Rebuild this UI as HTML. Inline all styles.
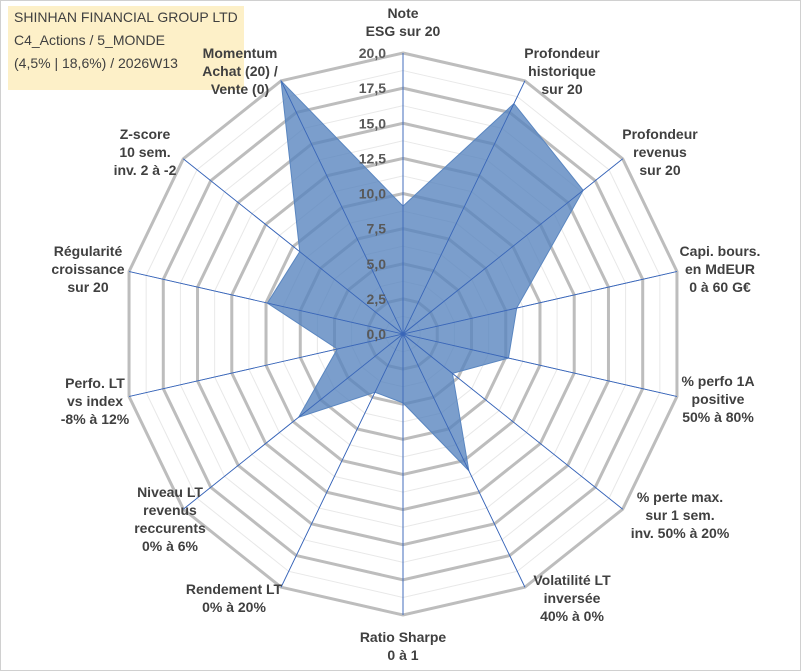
<!DOCTYPE html>
<html><head><meta charset="utf-8"><style>
body{margin:0;background:#fff}
svg{display:block;font-family:"Liberation Sans",Arial,sans-serif}
.lbl{font-size:14px;font-weight:bold;fill:#404040;text-anchor:middle}
.tick{font-size:14px;font-weight:bold;fill:#595959;text-anchor:end}
</style></head><body>
<svg id="chart" width="801" height="671" viewBox="0 0 801 671">
<rect x="0.5" y="0.5" width="800" height="670" fill="#fff" stroke="#d0d0d0"/>
<g id="grid"></g><g id="series"></g><g id="ticks"></g>
<g>
<rect x="8" y="6" width="236" height="84" fill="#fdf0c8"/>
<text x="14" y="22" font-size="14" fill="#404040">SHINHAN FINANCIAL GROUP LTD</text>
<text x="14" y="45" font-size="14" fill="#404040">C4_Actions / 5_MONDE</text>
<text x="14" y="68" font-size="14" fill="#404040">(4,5% | 18,6%) / 2026W13</text>
</g>
<g id="labels"></g>
</svg>
<script>
const categories=[["Note","ESG sur 20"],["Profondeur","historique","sur 20"],["Profondeur","revenus","sur 20"],["Capi. bours.","en MdEUR","0 à 60 G€"],["% perfo 1A","positive","50% à 80%"],["% perte max.","sur 1 sem.","inv. 50% à 20%"],["Volatilité LT","inversée","40% à 0%"],["Ratio Sharpe","0 à 1"],["Rendement LT","0% à 20%"],["Niveau LT","revenus","reccurents","0% à 6%"],["Perfo. LT","vs index","-8% à 12%"],["Régularité","croissance","sur 20"],["Z-score","10 sem.","inv. 2 à -2"],["Momentum","Achat (20) /","Vente (0)"]];
const values=[9.1,18.2,16.4,8.3,7.7,4.5,10.8,4.9,4.6,9.5,4.8,9.9,9.4,20];
const tickLabels=["0,0","2,5","5,0","7,5","10,0","12,5","15,0","17,5","20,0"];
const maxV=20;
const cx=403,cy=334,R=281,N=categories.length;
const labelX=[403,562,660,720,718,680,572,403,234,170,95,88,145,240];
const labelY=[18,58,139,256,386,502,585,642,594,497,388,256,139,58];
const NS="http://www.w3.org/2000/svg";
function ang(i){return i*2*Math.PI/N;}
function pt(i,v){const r=v/maxV*R;return [cx+r*Math.sin(ang(i)),cy-r*Math.cos(ang(i))];}
function mk(t,a,p){const e=document.createElementNS(NS,t);for(const k in a)e.setAttribute(k,a[k]);p.appendChild(e);return e;}
const grid=document.getElementById('grid');
for(let k=1;k<=16;k++){const v=k*1.25;const pts=[];for(let i=0;i<N;i++)pts.push(pt(i,v).join(','));
const major=k%2===0;
const e=mk('polygon',{points:pts.join(' '),fill:'none',stroke:major?'#bdbdbd':'#e8e8e8','stroke-width':major?3:1},grid);

}
for(let i=0;i<N;i++){const p=pt(i,maxV);const e=mk('line',{x1:cx,y1:cy,x2:p[0],y2:p[1],stroke:'#4472c4','stroke-width':0.8},grid);

}
const s=document.getElementById('series');
const poly=mk('polygon',{points:values.map((v,i)=>pt(i,v).join(',')).join(' '),fill:'#5683be','fill-opacity':0.78,stroke:'#5a86c0','stroke-width':1},s);


const sp=document.createElementNS(NS,'g');s.appendChild(sp);
for(let i=0;i<N;i++){const p=pt(i,maxV);mk('line',{x1:cx,y1:cy,x2:p[0],y2:p[1],stroke:'#3a66b8','stroke-width':0.8},sp);}
const tg=document.getElementById('ticks');
tickLabels.forEach((t,k)=>{const y=cy-k*2.5/maxV*R+5;const e=mk('text',{x:386,y:y,class:'tick'},tg);e.textContent=t;

});
const lg=document.getElementById('labels');
categories.forEach((lines,i)=>{const x=labelX[i],y=labelY[i];
const g=mk('text',{class:'lbl',x:x,y:y},lg);


lines.forEach((l,j)=>{const ts=mk('tspan',{x:x,dy:j?18:0},g);ts.textContent=l;});});
</script>
</body></html>
